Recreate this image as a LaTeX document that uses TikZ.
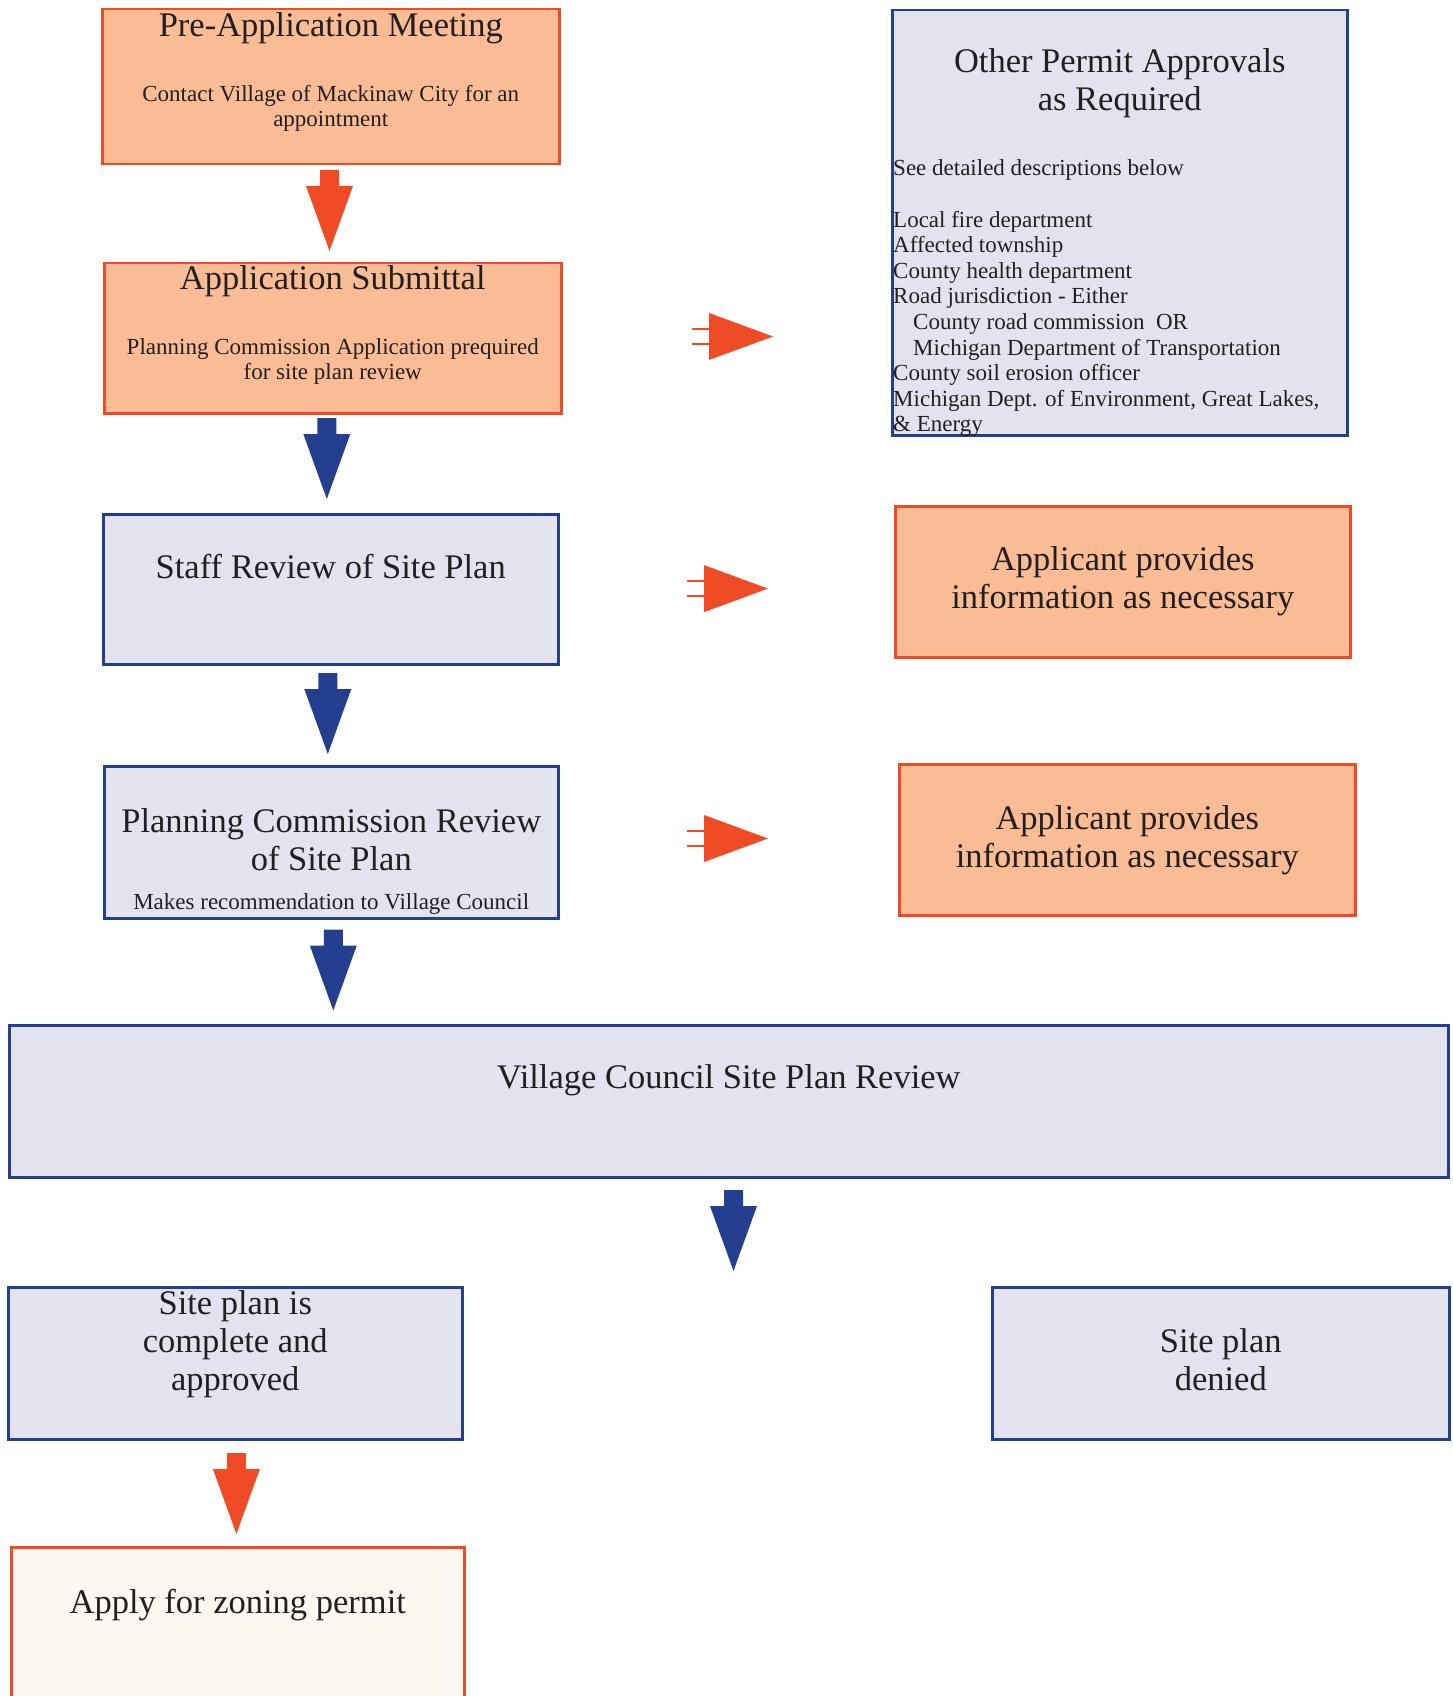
\documentclass[tikz,border=0pt]{standalone}
\usepackage{fontspec}
\setmainfont{Liberation Serif}
\usetikzlibrary{calc}

\definecolor{peach}{HTML}{F9BC94}
\definecolor{flame}{HTML}{EF4B25}
\definecolor{navy}{HTML}{243F8F}
\definecolor{lav}{HTML}{E3E3EF}
\definecolor{cream}{HTML}{FCF7F1}
\definecolor{ink}{HTML}{231F20}

% centred and left-aligned line stacks whose baseline is the first line
\newcommand{\cstack}[1]{\begin{tabular}[t]{@{}c@{}}#1\end{tabular}}
\newcommand{\lstack}[1]{\begin{tabular}[t]{@{}l@{}}#1\end{tabular}}

\tikzset{
  box/.style={rectangle, anchor=north west, inner sep=0pt, line width=2.5pt},
  orangebox/.style={box, draw=flame, fill=peach},
  bluebox/.style={box, draw=navy, fill=lav},
  creambox/.style={box, draw=flame, fill=cream},
  title/.style={anchor=base, inner sep=0pt, text=ink, font=\fontsize{34.5}{38}\selectfont},
  small/.style={anchor=base, inner sep=0pt, text=ink, font=\fontsize{23}{25}\selectfont},
  listtext/.style={anchor=base west, inner sep=0pt, text=ink, font=\fontsize{23}{25.6}\selectfont},
  downarrow/.pic={
    \fill (-9.5,0) -- (9.5,0) -- (9.5,16) -- (23.5,16) -- (0,81)
          -- (-23.5,16) -- (-9.5,16) -- cycle;
  },
  rightarrow/.pic={
    \draw[line width=2.5pt] (0,-7.5) -- (18,-7.5) (0,7.5) -- (18,7.5);
    \fill (17,-23.5) -- (81,0) -- (17,23.5) -- cycle;
  },
}

\begin{document}
\begin{tikzpicture}[x=1pt,y=-1pt]
\useasboundingbox (0,0) rectangle (1452,1696);
\clip (0,0) rectangle (1452,1696);

% ---- boxes ----
\node[orangebox, minimum width=457pt, minimum height=155pt] (pre)   at (101,8)    {};
\node[orangebox, minimum width=457pt, minimum height=150pt] (sub)   at (103,262)  {};
\node[bluebox,   minimum width=455pt, minimum height=150pt] (staff) at (102,513)  {};
\node[bluebox,   minimum width=454pt, minimum height=152pt] (pc)    at (103,765)  {};
\node[bluebox,   minimum width=1439pt,minimum height=152pt] (vc)    at (8,1024)   {};
\node[bluebox,   minimum width=454pt, minimum height=152pt] (ok)    at (7,1286)   {};
\node[bluebox,   minimum width=457pt, minimum height=152pt] (den)   at (991,1286) {};
\node[creambox,  minimum width=453pt, minimum height=200pt] (zon)   at (10,1546)  {};
\node[bluebox,   minimum width=455pt, minimum height=425pt] (other) at (891,9)    {};
\node[orangebox, minimum width=455pt, minimum height=151pt] (app1)  at (894,505)  {};
\node[orangebox, minimum width=456pt, minimum height=151pt] (app2)  at (898,763)  {};

% ---- texts ----
\node[title] (preT) at ($(pre.north)+(0,29)$) {\cstack{Pre-Application Meeting}};
\node[small] (preS) at ($(pre.north)+(0,94)$) {\cstack{Contact Village of Mackinaw City for an\\appointment}};

\node[title] (subT) at ($(sub.north)+(0,27)$) {\cstack{Application Submittal}};
\node[small] (subS) at ($(sub.north)+(0,92)$) {\cstack{Planning Commission Application prequired\\for site plan review}};

\node[title] (staffT) at ($(staff.north)+(0,65)$) {\cstack{Staff Review of Site Plan}};

\node[title] (pcT) at ($(pc.north)+(0,67)$) {\cstack{Planning Commission Review\\of Site Plan}};
\node[small] (pcS) at ($(pc.north)+(0,144)$) {\cstack{Makes recommendation to Village Council}};

\node[title] (vcT) at ($(vc.north)+(0,64)$) {\cstack{Village Council Site Plan Review}};
\node[title] (okT) at ($(ok.north)+(0,28)$) {\cstack{Site plan is\\complete and\\approved}};
\node[title] (denT) at ($(den.north)+(0,66)$) {\cstack{Site plan\\denied}};
\node[title] (zonT) at ($(zon.north)+(0,67)$) {\cstack{Apply for zoning permit}};

\node[title] (otherT) at ($(other.north)+(0,64)$) {\cstack{Other Permit Approvals\\as Required}};
\node[listtext] (otherL) at ($(other.north west)+(2,167)$) {\lstack{%
See detailed descriptions below\\
\\
Local fire department\\
Affected township\\
County health department\\
Road jurisdiction - Either\\
\hspace*{20pt}County road commission\ \ OR\\
\hspace*{20pt}Michigan Department of Transportation\\
County soil erosion officer\\
Michigan Dept. of Environment, Great Lakes,\\
\& Energy}};

\node[title] (app1T) at ($(app1.north)+(0,65)$) {\cstack{Applicant provides\\information as necessary}};
\node[title] (app2T) at ($(app2.north)+(0,66)$) {\cstack{Applicant provides\\information as necessary}};

% ---- block arrows ----
\pic[flame] at (329.5,170)  {downarrow};
\pic[navy]  at (326.8,418)  {downarrow};
\pic[navy]  at (327.8,673)  {downarrow};
\pic[navy]  at (333.3,929.5){downarrow};
\pic[navy]  at (733.5,1190) {downarrow};
\pic[flame] at (236.4,1453) {downarrow};

\pic[flame] at (692,336.5) {rightarrow};
\pic[flame] at (687,588.6) {rightarrow};
\pic[flame] at (687,838.5) {rightarrow};
\end{tikzpicture}
\end{document}
